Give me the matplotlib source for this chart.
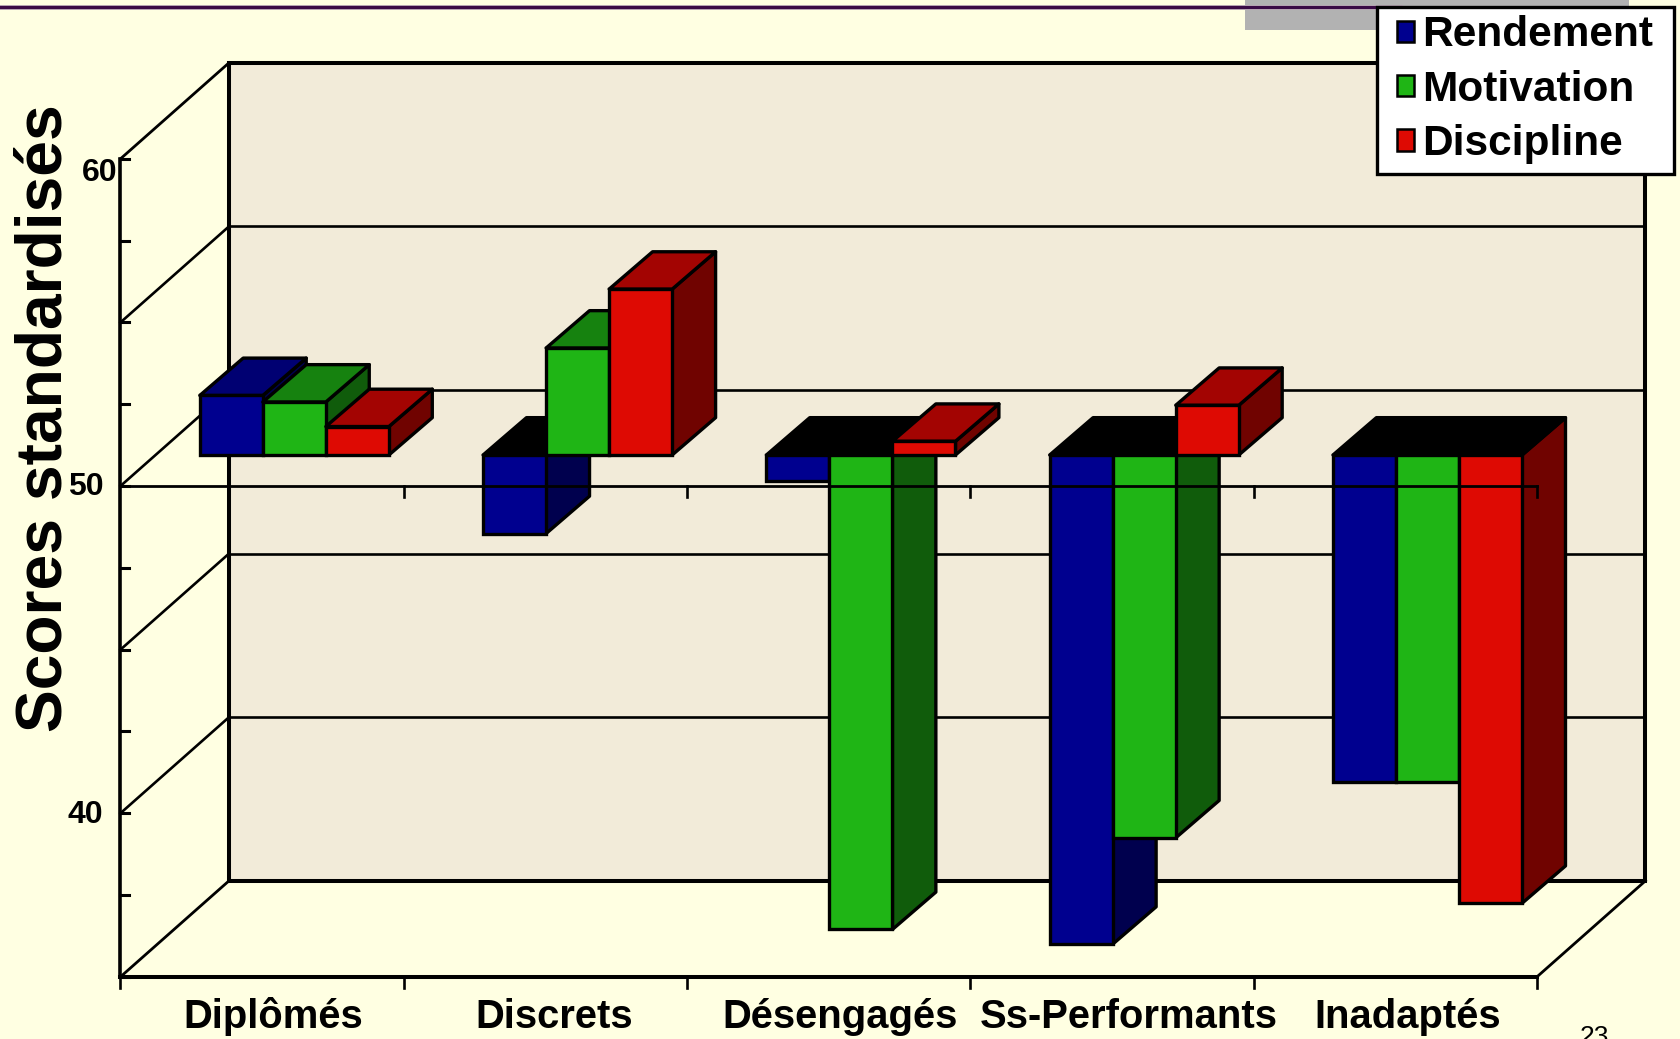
#recreating the 3d style bar chart of standardised scores
import matplotlib
matplotlib.use('Agg')
import matplotlib.pyplot as plt
from matplotlib.patches import Polygon, Patch, Rectangle
from matplotlib.lines import Line2D

#the data
categories = ['Diplômés', 'Discrets', 'Désengagés', 'Ss-Performants', 'Inadaptés']
rendement = [51.82, 47.6, 49.2, 35.05, 40.0]
motivation = [51.62, 53.27, 35.5, 38.3, 40.0]
discipline = [50.87, 55.07, 50.42, 51.52, 36.3]
series_names = ['Rendement', 'Motivation', 'Discipline']
y_ticks = [35, 37.5, 40, 42.5, 45, 47.5, 50, 52.5, 55, 57.5, 60]
y_grid = [40, 45, 50, 55]
y_labels = [60, 50, 40]

#colours (front, top, side) for each series
blue = ('#00008F', '#000072', '#00004E')
green = ('#1FB515', '#16820F', '#105C0B')
red = ('#DE0A03', '#A30402', '#700300')
background = '#FFFFE2'
wall_colour = '#F2EBD9'

plt.rcParams['font.family'] = ['Liberation Sans', 'DejaVu Sans']

W, H = 1681, 1039
fig = plt.figure(figsize=(W / 100, H / 100), dpi=100, facecolor=background)
ax = fig.add_axes([0, 0, 1, 1])
ax.axis('off')

#axes limits chosen so the plot box lands in the same place as the reference
x_per_cat = 283.3
y_per_unit = 32.72
ax.set_xlim(-120.5 / x_per_cat, (W - 120.5) / x_per_cat)
ax.set_ylim(50 - (H - 486) / y_per_unit, 50 + 486 / y_per_unit)

n_cat = len(categories)
y_min, y_max = y_ticks[0], y_ticks[-1]

#depth of the box, in data units
depth_x = 108.5 / x_per_cat
depth_y = 96 / y_per_unit
#where the bars sit inside the depth, and how deep they are
bar_front_x = 0.3
bar_back_x = 0.7
bar_front_y = 0.323
bar_back_y = 0.712
bar_width = 0.2225
group_start = 0.165


def figx(px):
    return px / W


def figy(py):
    return 1 - py / H


#slide rule line and grey box at the top of the slide
fig.add_artist(Rectangle((figx(1245), figy(30)), 384 / W, 30 / H, transform=fig.transFigure,
                         facecolor='#B2B2B2', edgecolor='none', zorder=0))
fig.add_artist(Line2D([0, figx(1400)], [figy(7), figy(7)], transform=fig.transFigure,
                      color='#B9A9B5', lw=3.6, zorder=0.4))
fig.add_artist(Line2D([0, figx(1400)], [figy(7), figy(7)], transform=fig.transFigure,
                      color='#3A0A45', lw=2.2, zorder=0.5))

#back wall
ax.add_patch(Rectangle((depth_x, y_min + depth_y), n_cat, y_max - y_min, facecolor=wall_colour,
                       edgecolor='black', lw=2.9, zorder=1, joinstyle='miter'))

#grid lines on the wall and on the left side
for g in y_grid:
    ax.plot([depth_x, n_cat + depth_x], [g + depth_y, g + depth_y], color='black', lw=1.9, zorder=1.5)
    ax.plot([0, depth_x], [g, g + depth_y], color='black', lw=1.9, zorder=1.5)
ax.plot([0, depth_x], [y_max, y_max + depth_y], color='black', lw=2, zorder=1.5)
ax.plot([0, depth_x], [y_min, y_min + depth_y], color='black', lw=2, zorder=1.5)
ax.plot([n_cat, n_cat + depth_x], [y_min, y_min + depth_y], color='black', lw=2, zorder=1.5)

#left axis and bottom axis
ax.plot([0, 0], [y_min, y_max], color='black', lw=2.6, zorder=1.6)
ax.plot([0, n_cat], [y_min, y_min], color='black', lw=2.9, zorder=1.6)
for t in y_ticks:
    ax.plot([0, 0.03], [t, t], color='black', lw=2.2, zorder=1.6)
for i in range(n_cat + 1):
    ax.plot([i, i], [y_min, y_min - 0.34], color='black', lw=1.9, zorder=1.6)

#the bars, left to right so the later ones cover the earlier ones
z = 2
for i in range(n_cat):
    values = [rendement[i], motivation[i], discipline[i]]
    for j, colours in enumerate([blue, green, red]):
        v = values[j]
        x0 = i + group_start + j * bar_width + bar_front_x * depth_x
        x1 = x0 + bar_width
        base = 50 + bar_front_y * depth_y
        tip = v + bar_front_y * depth_y
        dx = (bar_back_x - bar_front_x) * depth_x
        dy = (bar_back_y - bar_front_y) * depth_y
        #bars under 50 show a black face on top
        top_level = max(base, tip)
        top_colour = colours[1] if v > 50 else 'black'
        side = [(x1, base), (x1 + dx, base + dy), (x1 + dx, tip + dy), (x1, tip)]
        top = [(x0, top_level), (x1, top_level), (x1 + dx, top_level + dy), (x0 + dx, top_level + dy)]
        front = [(x0, base), (x1, base), (x1, tip), (x0, tip)]
        ax.add_patch(Polygon(side, facecolor=colours[2], edgecolor='black', lw=2.4, zorder=z, joinstyle='round'))
        ax.add_patch(Polygon(top, facecolor=top_colour, edgecolor='black', lw=2.4, zorder=z, joinstyle='round'))
        ax.add_patch(Polygon(front, facecolor=colours[0], edgecolor='black', lw=2.4, zorder=z, joinstyle='miter'))
        z += 0.01

#the 50 line runs over the bars
ax.plot([0, n_cat], [50, 50], color='black', lw=2, zorder=3)
for i in range(1, n_cat + 1):
    ax.plot([i, i], [50, 50 - 0.34], color='black', lw=1.9, zorder=3)

#text
label_shift = [0.04, 0.03, 0.04, 0.06, 0.045]
for i, name in enumerate(categories):
    ax.text(i + 0.5 + label_shift[i], 50 - (1028 - 486) / y_per_unit, name, ha='center', va='baseline',
            fontsize=28.8, fontweight='bold', zorder=4)

label_pos = {60: (118, 173), 50: (104, 487), 40: (103, 815)}
for v in y_labels:
    px, py = label_pos[v]
    fig.text(figx(px), figy(py), str(v), ha='right', va='center', fontsize=23, fontweight='bold')

fig.text(figx(45), figy(418), 'Scores standardisés', rotation=90, ha='center', va='center',
         fontsize=46.2, fontweight='bold')
fig.text(figx(1594), figy(1044), '23', ha='center', va='baseline', fontsize=19)

#legend box drawn separately because the side padding is wider than the top padding
fig.add_artist(Rectangle((figx(1377.5), figy(173.5)), 297 / W, 167 / H, transform=fig.transFigure,
                         facecolor='white', edgecolor='black', lw=2.4, zorder=8))
handles = [Patch(facecolor=c[0], edgecolor='black', lw=1.8) for c in (blue, green, red)]
leg = fig.legend(handles, series_names, loc='upper left', bbox_to_anchor=(1397 / W, 1 - 15.5 / H),
                 borderaxespad=0, frameon=False, prop={'size': 30.5, 'weight': 'bold'},
                 handlelength=0.4, handleheight=0.4, handletextpad=0.19, labelspacing=0.34,
                 borderpad=0)
leg.set_zorder(10)

fig.savefig('out.png', dpi=100, facecolor=background)
